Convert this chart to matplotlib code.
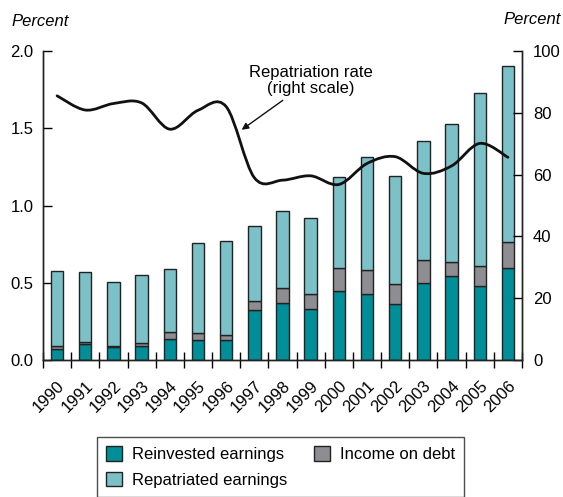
import matplotlib

matplotlib.use("Agg")
import matplotlib.pyplot as plt
from matplotlib.patches import Patch, PathPatch
from matplotlib.path import Path

plt.rcParams["font.family"] = ["Liberation Sans", "DejaVu Sans"]

# Values.
years = [str(y) for y in range(1990, 2007)]
reinvested = [0.07, 0.104, 0.082, 0.089, 0.136, 0.127, 0.127, 0.324, 0.367,
              0.328, 0.447, 0.425, 0.36, 0.50, 0.544, 0.477, 0.593]
debt_top = [0.092, 0.118, 0.093, 0.108, 0.179, 0.173, 0.162, 0.382, 0.464,
            0.425, 0.593, 0.583, 0.492, 0.647, 0.636, 0.61, 0.766]
total = [0.575, 0.572, 0.505, 0.552, 0.589, 0.76, 0.77, 0.87, 0.962,
         0.92, 1.185, 1.316, 1.19, 1.415, 1.53, 1.725, 1.903]
repatriation_rate = [85.5, 80.9, 83.0, 83.2, 74.7, 80.8, 82.0, 59.0, 58.2,
                     59.6, 56.8, 63.6, 65.8, 60.4, 62.8, 70.1, 65.6]

TEAL = "#008F98"
GRAY = "#8E8E92"
LIGHT = "#7BC1C7"
EDGE = "#222222"
FS = 12

x = list(range(len(years)))
income = [d - r for d, r in zip(debt_top, reinvested)]
repatriated = [t - d for t, d in zip(total, debt_top)]

fig = plt.figure(figsize=(5.63, 4.97), dpi=100)
ax = fig.add_axes([43 / 563, 137 / 497, 479 / 563, 309 / 497])
ax2 = ax.twinx()

w = 0.44
bar_kw = dict(width=w, edgecolor=EDGE, linewidth=1.0, zorder=2)
ax.bar(x, reinvested, color=TEAL, **bar_kw)
ax.bar(x, income, bottom=reinvested, color=GRAY, **bar_kw)
ax.bar(x, repatriated, bottom=debt_top, color=LIGHT, **bar_kw)

ax.set_xlim(-0.5, len(years) - 0.5)
ax.set_ylim(0, 2.0)
ax.set_yticks([0, 0.5, 1.0, 1.5, 2.0])
ax.set_yticklabels(["0.0", "0.5", "1.0", "1.5", "2.0"])
ax.set_xticks(x)
ax.set_xticklabels(years, rotation=45, ha="right", va="top", rotation_mode="anchor")
ax.set_xticks([i - 0.5 for i in range(len(years) + 1)], minor=True)
ax.tick_params(axis="x", which="major", length=0, pad=13, labelsize=FS)
ax.tick_params(axis="x", which="minor", direction="inout", length=12, width=1)
ax.tick_params(axis="y", direction="in", length=6.5, width=1, pad=7, labelsize=FS)
ax.spines["top"].set_visible(False)

ax2.set_ylim(0, 100)
ax2.set_yticks([0, 20, 40, 60, 80, 100])
ax2.tick_params(axis="y", direction="in", length=6.5, width=1, pad=8, labelsize=FS)
ax2.spines["top"].set_visible(False)
for a in (ax, ax2):
    for s in a.spines.values():
        s.set_linewidth(1.0)
        s.set_color(EDGE)

# Smooth line through the yearly points (Catmull-Rom as cubic Bezier segments).
pts = list(zip(x, repatriation_rate))
verts = [pts[0]]
codes = [Path.MOVETO]
for i in range(len(pts) - 1):
    p0 = pts[i - 1] if i > 0 else pts[i]
    p1, p2 = pts[i], pts[i + 1]
    p3 = pts[i + 2] if i + 2 < len(pts) else pts[i + 1]
    c1 = (p1[0] + (p2[0] - p0[0]) / 6, p1[1] + (p2[1] - p0[1]) / 6)
    c2 = (p2[0] - (p3[0] - p1[0]) / 6, p2[1] - (p3[1] - p1[1]) / 6)
    verts += [c1, c2, p2]
    codes += [Path.CURVE4] * 3
ax2.add_patch(PathPatch(Path(verts, codes), fill=False, edgecolor="#111111",
                        linewidth=2.0, capstyle="round", zorder=3))

ax2.annotate("Repatriation rate\n(right scale)", xy=(6.55, 74.5), xytext=(9.0, 90.5),
             ha="center", va="center", fontsize=FS, linespacing=1.1,
             arrowprops=dict(arrowstyle="-|>", color="#111111", lw=1.0,
                             shrinkA=2, shrinkB=0, mutation_scale=10))

fig.text(11 / 563, 1 - 22 / 497, "Percent", style="italic", fontsize=FS,
         ha="left", va="center")
fig.text(561 / 563, 1 - 20 / 497, "Percent", style="italic", fontsize=FS,
         ha="right", va="center")

handles = [
    Patch(facecolor=TEAL, edgecolor=EDGE, label="Reinvested earnings"),
    Patch(facecolor=LIGHT, edgecolor=EDGE, label="Repatriated earnings"),
    Patch(facecolor=GRAY, edgecolor=EDGE, label="Income on debt"),
]
leg = fig.legend(handles=handles, loc="upper left", bbox_to_anchor=(97 / 563, 1 - 437 / 497),
                 ncol=2, fontsize=FS, frameon=True, fancybox=False, handlelength=0.95,
                 handleheight=0.95, handletextpad=0.6, columnspacing=1.6,
                 labelspacing=0.6, borderpad=0.55, borderaxespad=0)
leg.get_frame().set_edgecolor(EDGE)
leg.get_frame().set_linewidth(1.0)

fig.savefig("out.png", dpi=100)
